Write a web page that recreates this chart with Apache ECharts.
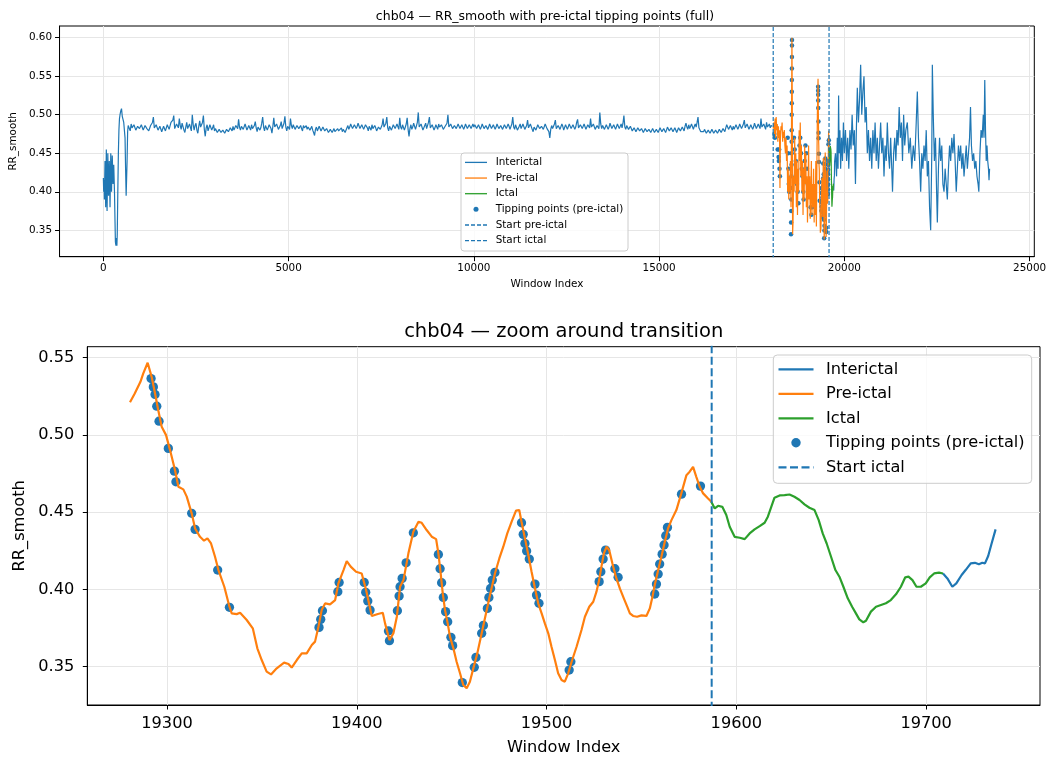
<!DOCTYPE html>
<html><head><meta charset="utf-8">
<script src="https://cdn.jsdelivr.net/npm/echarts@6/dist/echarts.min.js"></script>
<style>html,body{margin:0;padding:0;background:#fff}#c{width:1054px;height:758px}</style>
</head><body><div id="c"></div><script>
// ---------------- DATA ----------------
const startPreictal = 18080;
const startIctal = 19587;

// interictal, beginning of recording [window, RR_smooth]
const interictalEarly = [[0,0.418],[9,0.40],[18,0.415],[27,0.39],[45,0.44],[63,0.38],[80,0.455],[100,0.375],[120,0.45],[140,0.395],[160,0.44],[180,0.38],[200,0.45],[220,0.40],[240,0.447],[260,0.41],[280,0.435],[300,0.40],[315,0.36],[325,0.335],[340,0.33],[355,0.34],[365,0.33],[375,0.345],[390,0.40],[405,0.45],[420,0.48],[435,0.495],[450,0.50],[470,0.505],[490,0.508],[510,0.498],[530,0.50],[550,0.49],[570,0.488],[585,0.47],[600,0.43],[615,0.395],[628,0.393],[640,0.44],[655,0.478],[670,0.486],[690,0.484]];

// interictal plateau: blocks [first window, values every 25 windows]
const flatStep = 25;
const flatBlocks = [
[700,[0.484,0.479,0.488,0.483,0.482,0.487,0.486,0.480,0.481,0.485,0.487,0.482]],
[1000,[0.483,0.487,0.486,0.480,0.481,0.486,0.488,0.482,0.484,0.479,0.480,0.486,0.485,0.490,0.497,0.483,0.482,0.487,0.486,0.480,0.479,0.485,0.483,0.478,0.478,0.485,0.484,0.479,0.480,0.487,0.486,0.481,0.482,0.490,0.489,0.493,0.499,0.482,0.484,0.488]],
[2000,[0.488,0.483,0.495,0.486,0.481,0.489,0.487,0.480,0.477,0.484,0.490,0.482,0.483,0.488,0.486,0.479,0.500,0.487,0.480,0.486,0.489,0.480,0.476,0.485,0.492,0.484,0.482,0.490,0.499,0.481,0.472,0.483,0.487,0.479,0.481,0.487,0.485,0.480,0.483,0.487]],
[3000,[0.479,0.482,0.481,0.477,0.478,0.481,0.480,0.477,0.477,0.480,0.479,0.476,0.478,0.481,0.481,0.478,0.479,0.483,0.482,0.479,0.485,0.480,0.481,0.486,0.487,0.482,0.494,0.484,0.480,0.485,0.486,0.481,0.482,0.488,0.489,0.480,0.478,0.486,0.484,0.480]],
[4000,[0.487,0.482,0.481,0.486,0.491,0.483,0.478,0.484,0.486,0.480,0.483,0.489,0.497,0.484,0.479,0.486,0.485,0.480,0.481,0.487,0.488,0.482,0.476,0.485,0.496,0.484,0.482,0.488,0.487,0.481,0.480,0.486,0.491,0.482,0.483,0.489,0.498,0.484,0.479,0.485]],
[5000,[0.486,0.481,0.495,0.486,0.482,0.487,0.485,0.481,0.483,0.486,0.487,0.482,0.484,0.486,0.482,0.479,0.486,0.483,0.483,0.486,0.481,0.484,0.485,0.480,0.482,0.485,0.480,0.477,0.473,0.481,0.484,0.479,0.481,0.485,0.483,0.479,0.480,0.484,0.482,0.479]],
[6000,[0.479,0.482,0.480,0.477,0.478,0.481,0.480,0.477,0.479,0.482,0.478,0.476,0.480,0.482,0.479,0.477,0.481,0.483,0.478,0.481,0.480,0.477,0.479,0.483,0.486,0.481,0.484,0.488,0.489,0.482,0.483,0.487,0.487,0.482,0.485,0.489,0.490,0.482,0.484,0.487]],
[7000,[0.486,0.481,0.482,0.487,0.488,0.483,0.479,0.485,0.484,0.480,0.487,0.482,0.481,0.486,0.483,0.479,0.478,0.484,0.485,0.481,0.480,0.487,0.495,0.484,0.482,0.489,0.497,0.483,0.479,0.485,0.486,0.480,0.481,0.487,0.488,0.482,0.483,0.488,0.486,0.481]],
[8000,[0.496,0.484,0.481,0.487,0.486,0.480,0.482,0.488,0.496,0.481,0.472,0.482,0.487,0.481,0.484,0.489,0.490,0.481,0.480,0.490,0.503,0.484,0.483,0.488,0.487,0.480,0.480,0.486,0.489,0.482,0.484,0.490,0.497,0.483,0.482,0.487,0.486,0.480,0.483,0.487]],
[9000,[0.485,0.481,0.488,0.484,0.482,0.487,0.486,0.481,0.480,0.485,0.484,0.489,0.500,0.484,0.483,0.488,0.487,0.482,0.481,0.486,0.486,0.482,0.484,0.488,0.487,0.482,0.483,0.487,0.486,0.481,0.484,0.488,0.488,0.482,0.483,0.487,0.486,0.482,0.485,0.488]],
[10000,[0.484,0.487,0.486,0.482,0.483,0.487,0.485,0.481,0.484,0.488,0.487,0.482,0.483,0.486,0.486,0.481,0.484,0.488,0.485,0.482,0.483,0.487,0.486,0.481,0.484,0.488,0.487,0.482,0.482,0.486,0.485,0.481,0.483,0.487,0.486,0.482,0.484,0.488,0.485,0.481]],
[11000,[0.483,0.488,0.497,0.484,0.481,0.487,0.486,0.480,0.479,0.485,0.488,0.482,0.483,0.488,0.486,0.481,0.480,0.486,0.493,0.483,0.482,0.488,0.487,0.481,0.478,0.484,0.485,0.480,0.481,0.487,0.489,0.482,0.480,0.485,0.486,0.481,0.483,0.488,0.487,0.482]],
[12000,[0.482,0.478,0.470,0.481,0.486,0.482,0.481,0.488,0.493,0.482,0.480,0.486,0.487,0.481,0.483,0.488,0.485,0.480,0.481,0.487,0.486,0.481,0.483,0.488,0.488,0.482,0.482,0.487,0.487,0.481,0.484,0.490,0.494,0.483,0.482,0.487,0.489,0.482,0.484,0.488]],
[13000,[0.486,0.481,0.481,0.487,0.488,0.483,0.495,0.484,0.483,0.488,0.487,0.481,0.480,0.486,0.486,0.482,0.503,0.488,0.482,0.486,0.487,0.481,0.481,0.487,0.486,0.481,0.484,0.489,0.488,0.482,0.482,0.487,0.486,0.481,0.483,0.488,0.487,0.482,0.484,0.488]],
[14000,[0.483,0.489,0.499,0.484,0.481,0.486,0.486,0.481,0.480,0.485,0.484,0.479,0.479,0.483,0.482,0.478,0.480,0.483,0.483,0.479,0.478,0.482,0.481,0.477,0.479,0.482,0.482,0.478,0.478,0.481,0.480,0.477,0.479,0.482,0.481,0.477,0.478,0.481,0.480,0.477]],
[15000,[0.479,0.483,0.482,0.478,0.478,0.482,0.481,0.477,0.480,0.484,0.483,0.479,0.479,0.483,0.482,0.478,0.480,0.483,0.481,0.477,0.479,0.483,0.483,0.479,0.480,0.484,0.482,0.479,0.485,0.489,0.484,0.481,0.487,0.482,0.483,0.488,0.486,0.481,0.485,0.488]],
[16000,[0.484,0.490,0.497,0.483,0.482,0.478,0.480,0.476,0.478,0.481,0.479,0.476,0.477,0.480,0.479,0.476,0.478,0.481,0.480,0.476,0.477,0.480,0.479,0.476,0.478,0.481,0.480,0.477,0.479,0.482,0.481,0.478,0.483,0.487,0.485,0.481,0.482,0.486,0.484,0.480]],
[17000,[0.485,0.481,0.483,0.487,0.486,0.481,0.484,0.488,0.487,0.482,0.483,0.488,0.493,0.483,0.484,0.488,0.487,0.481,0.483,0.487,0.486,0.481,0.484,0.489,0.488,0.482,0.483,0.488,0.487,0.482,0.495,0.484,0.484,0.488,0.486,0.481,0.490,0.484,0.484,0.488]],
[18000,[0.483,0.486,0.485]]
];

// pre-ictal, before the zoom window (top panel only)
const preictalCoarse = [[18080,0.482],[18100,0.49],[18115,0.475],[18130,0.495],[18145,0.47],[18160,0.497],[18175,0.48],[18190,0.488],[18205,0.465],[18220,0.485],[18235,0.47],[18250,0.48],[18262,0.405],[18275,0.47],[18290,0.485],[18305,0.48],[18320,0.49],[18335,0.465],[18350,0.478],[18365,0.47],[18380,0.48],[18395,0.46],[18410,0.45],[18425,0.47],[18440,0.44],[18455,0.46],[18470,0.40],[18485,0.43],[18500,0.39],[18515,0.42],[18530,0.40],[18545,0.44],[18560,0.38],[18575,0.50],[18585,0.60],[18595,0.52],[18603,0.345],[18615,0.36],[18630,0.42],[18645,0.40],[18660,0.47],[18675,0.41],[18690,0.45],[18705,0.38],[18720,0.44],[18735,0.37],[18750,0.43],[18765,0.40],[18780,0.48],[18795,0.44],[18810,0.49],[18825,0.42],[18840,0.46],[18855,0.40],[18870,0.44],[18885,0.37],[18900,0.43],[18915,0.39],[18930,0.46],[18945,0.41],[18960,0.45],[18975,0.38],[18990,0.42],[19005,0.36],[19020,0.40],[19035,0.46],[19050,0.39],[19065,0.42],[19080,0.365],[19095,0.40],[19110,0.44],[19125,0.37],[19140,0.41],[19155,0.38],[19170,0.43],[19185,0.36],[19200,0.41],[19215,0.37],[19230,0.44],[19245,0.355],[19260,0.44],[19272,0.50]];

// pre-ictal inside the zoom window
const preictalFine = [[19280.5,0.521],[19283,0.5267],[19286,0.5343],[19287.5,0.5397],[19289.8,0.5466],[19291.9,0.5375],[19293.7,0.5267],[19295.4,0.5159],[19297.2,0.5052],[19299.5,0.4998],[19301.6,0.4901],[19304.2,0.4772],[19306,0.4664],[19308.6,0.4647],[19310.4,0.46],[19313,0.4492],[19314.8,0.4394],[19317.4,0.434],[19319.5,0.4315],[19321.3,0.433],[19323.2,0.4297],[19325.3,0.4211],[19327.1,0.4125],[19330.2,0.4017],[19332.9,0.3888],[19334.1,0.3845],[19336.7,0.384],[19338.5,0.3849],[19342,0.3802],[19345.2,0.3748],[19347.6,0.3619],[19349.9,0.3543],[19352.5,0.3468],[19354.8,0.345],[19357.8,0.3489],[19361.7,0.3526],[19364,0.3517],[19365.7,0.3494],[19368.4,0.3543],[19371,0.3586],[19373.6,0.3586],[19376.3,0.364],[19378,0.3662],[19379.8,0.3759],[19381.5,0.3866],[19383.3,0.3909],[19385.9,0.3903],[19388.6,0.3931],[19390.3,0.4039],[19393,0.4125],[19394.7,0.4183],[19396.8,0.4147],[19399.6,0.4114],[19402.6,0.4103],[19404.9,0.3996],[19407.9,0.3828],[19411.1,0.3841],[19413.7,0.3849],[19414.9,0.378],[19417.2,0.3672],[19419.3,0.3716],[19421.1,0.3823],[19422.8,0.4017],[19424.6,0.406],[19427.2,0.4233],[19429.8,0.4373],[19432.5,0.4438],[19434.2,0.4431],[19436.8,0.4384],[19439.5,0.4341],[19441.8,0.4325],[19443,0.4233],[19444.2,0.4103],[19445.3,0.3974],[19446.5,0.3866],[19447.9,0.378],[19449.1,0.3694],[19450.9,0.3619],[19452.6,0.3532],[19454.4,0.3457],[19456.1,0.3381],[19457.9,0.336],[19459.6,0.3403],[19461.4,0.3489],[19463.5,0.3586],[19465.8,0.3716],[19468.1,0.3845],[19470.2,0.3963],[19472.8,0.4103],[19475.1,0.42],[19477.2,0.4276],[19479.3,0.4362],[19481.6,0.4438],[19483.9,0.4509],[19485.6,0.4513],[19486.8,0.4438],[19488.6,0.433],[19490.4,0.4222],[19492.1,0.4114],[19493.9,0.4006],[19495.6,0.391],[19497.4,0.3845],[19499.1,0.378],[19500.9,0.3716],[19502.6,0.3629],[19504.4,0.3543],[19506.1,0.3457],[19507.9,0.3414],[19509.6,0.3403],[19511.4,0.3457],[19513.2,0.3532],[19515.8,0.3629],[19518.4,0.3737],[19520.2,0.3823],[19522.5,0.3888],[19524.6,0.392],[19526.3,0.3985],[19527.7,0.406],[19528.9,0.4147],[19530.2,0.4233],[19531.6,0.4276],[19533,0.4254],[19534.7,0.4168],[19536.5,0.4082],[19538.6,0.4006],[19540.7,0.3942],[19542.5,0.3888],[19543.9,0.3845],[19545.6,0.3828],[19547.7,0.3823],[19550,0.3832],[19552.6,0.3828],[19554.4,0.3877],[19555.8,0.3953],[19557,0.4028],[19558.8,0.4125],[19560.5,0.4211],[19562.3,0.4308],[19564,0.4394],[19565.8,0.4448],[19568.4,0.4513],[19571,0.4621],[19573.7,0.4739],[19575.4,0.4761],[19577.2,0.4793],[19578.9,0.4728],[19580.7,0.4664],[19582.5,0.4621],[19585.1,0.4588],[19586.8,0.4567]];

// ictal
const ictalFine = [[19586.8,0.4567],[19588.6,0.4524],[19590.4,0.4541],[19592.6,0.4534],[19594.7,0.4481],[19596.5,0.4405],[19599.1,0.434],[19601.8,0.4334],[19604.4,0.4325],[19607,0.4362],[19609.6,0.4388],[19612.3,0.4409],[19614.9,0.4431],[19616.6,0.447],[19618.4,0.4534],[19620.1,0.4593],[19622.8,0.4608],[19625.4,0.461],[19628,0.4614],[19630.6,0.4599],[19633.3,0.4578],[19635.9,0.455],[19638.5,0.4528],[19641.2,0.4513],[19643.4,0.4448],[19645.5,0.4362],[19647.6,0.4297],[19649.9,0.4211],[19652.2,0.4125],[19654.3,0.4082],[19656.4,0.4017],[19658.7,0.3942],[19661,0.3888],[19663,0.3845],[19664.8,0.3806],[19666.9,0.3787],[19668.3,0.3797],[19670.9,0.3856],[19673.6,0.3888],[19676.2,0.3899],[19678.8,0.391],[19681.4,0.3931],[19684.1,0.3968],[19686.7,0.4017],[19689,0.4078],[19690.7,0.4082],[19692.8,0.406],[19694.9,0.4017],[19697.2,0.4017],[19699.8,0.4039],[19701.9,0.4078],[19704.2,0.4103],[19706.8,0.4108],[19708.9,0.4103]];

// interictal after the seizure, inside the zoom window
const postFine = [[19708.9,0.4103],[19711.2,0.4071],[19713.8,0.4017],[19715.9,0.4039],[19718.7,0.4093],[19720.8,0.4125],[19723.5,0.4168],[19725.7,0.4172],[19727.8,0.4162],[19729.6,0.4172],[19731,0.4168],[19732.7,0.4216],[19734.5,0.4297],[19736.6,0.4388]];

// interictal after the zoom window (top panel only)
const postCoarse = [[19760,0.45],[19790,0.42],[19810,0.47],[19830,0.43],[19845,0.525],[19860,0.45],[19880,0.48],[19900,0.43],[19925,0.47],[19950,0.44],[19975,0.49],[20000,0.45],[20030,0.48],[20060,0.44],[20090,0.47],[20120,0.43],[20150,0.48],[20180,0.455],[20210,0.50],[20240,0.46],[20270,0.48],[20300,0.41],[20320,0.47],[20350,0.535],[20380,0.49],[20410,0.52],[20440,0.565],[20470,0.50],[20500,0.53],[20530,0.55],[20560,0.49],[20590,0.51],[20620,0.45],[20650,0.48],[20680,0.44],[20710,0.47],[20740,0.43],[20770,0.48],[20800,0.45],[20830,0.49],[20860,0.44],[20890,0.47],[20920,0.43],[20950,0.46],[20980,0.49],[21010,0.45],[21040,0.47],[21070,0.42],[21100,0.46],[21130,0.44],[21160,0.49],[21190,0.45],[21220,0.43],[21250,0.47],[21280,0.43],[21300,0.40],[21330,0.45],[21360,0.47],[21390,0.44],[21420,0.48],[21450,0.46],[21480,0.51],[21510,0.47],[21540,0.49],[21570,0.44],[21600,0.50],[21630,0.46],[21660,0.48],[21700,0.49],[21740,0.45],[21780,0.47],[21820,0.43],[21860,0.46],[21900,0.44],[21940,0.49],[21970,0.53],[22000,0.47],[22030,0.44],[22060,0.40],[22090,0.45],[22120,0.43],[22150,0.46],[22180,0.44],[22210,0.48],[22240,0.42],[22270,0.44],[22300,0.38],[22330,0.35],[22360,0.45],[22375,0.565],[22400,0.50],[22430,0.44],[22460,0.47],[22490,0.40],[22510,0.36],[22540,0.43],[22570,0.47],[22600,0.44],[22630,0.46],[22660,0.41],[22690,0.40],[22720,0.43],[22750,0.41],[22780,0.39],[22810,0.43],[22840,0.46],[22870,0.44],[22900,0.47],[22930,0.45],[22960,0.475],[22990,0.44],[23020,0.40],[23050,0.43],[23080,0.46],[23110,0.44],[23140,0.46],[23170,0.43],[23200,0.45],[23230,0.42],[23260,0.44],[23290,0.46],[23320,0.43],[23350,0.45],[23380,0.47],[23405,0.51],[23430,0.46],[23460,0.44],[23490,0.45],[23520,0.43],[23550,0.44],[23580,0.42],[23610,0.41],[23630,0.40],[23660,0.45],[23690,0.48],[23720,0.47],[23750,0.50],[23770,0.47],[23790,0.545],[23810,0.48],[23830,0.44],[23850,0.46],[23870,0.44],[23890,0.43],[23905,0.415],[23920,0.43]];

// tipping points before the zoom window (top panel only)
const tipCoarse = [[18110,0.475],[18125,0.47],[18200,0.455],[18225,0.445],[18232,0.44],[18240,0.455],[18250,0.43],[18260,0.42],[18470,0.47],[18480,0.45],[18490,0.43],[18500,0.41],[18510,0.40],[18560,0.345],[18563,0.36],[18566,0.375],[18569,0.39],[18571,0.405],[18573,0.42],[18575,0.435],[18577,0.45],[18578,0.465],[18579,0.48],[18580,0.50],[18581,0.515],[18582,0.53],[18583,0.545],[18584,0.56],[18585,0.575],[18586,0.59],[18587,0.597],[18640,0.47],[18660,0.455],[18690,0.44],[18700,0.42],[18720,0.41],[18740,0.40],[18760,0.385],[18790,0.46],[18810,0.47],[18830,0.45],[18850,0.43],[18870,0.42],[18890,0.40],[18900,0.39],[18930,0.44],[18950,0.46],[18970,0.45],[18990,0.43],[19010,0.41],[19050,0.41],[19070,0.395],[19090,0.38],[19110,0.37],[19130,0.38],[19150,0.39]];

// tipping points inside the zoom window
const tipFine = [[19291.6,0.5364],[19292.8,0.531],[19293.7,0.5261],[19294.6,0.5185],[19295.8,0.5088],[19300.7,0.4912],[19303.9,0.4765],[19304.7,0.4696],[19313,0.4492],[19314.8,0.4388],[19326.7,0.4125],[19332.9,0.3884],[19380.1,0.3754],[19381,0.3806],[19381.9,0.3862],[19390,0.3985],[19390.7,0.4045],[19403.9,0.4045],[19404.7,0.3981],[19405.8,0.3925],[19407,0.3866],[19416.7,0.3731],[19417.2,0.3668],[19421.4,0.3862],[19422.3,0.3957],[19422.8,0.4017],[19423.9,0.4071],[19426,0.4172],[19429.8,0.4366],[19443,0.4226],[19443.9,0.4134],[19444.7,0.4043],[19445.6,0.3948],[19446.8,0.3856],[19447.9,0.3791],[19449.6,0.369],[19450.5,0.3636],[19455.6,0.3397],[19461.9,0.3496],[19462.8,0.356],[19465.8,0.3716],[19466.7,0.3767],[19468.8,0.3877],[19469.6,0.3948],[19470.5,0.4006],[19471.4,0.406],[19472.8,0.411],[19486.8,0.4431],[19487.7,0.4356],[19488.6,0.4297],[19489.5,0.4248],[19490.9,0.4196],[19493.9,0.4034],[19494.7,0.3963],[19496,0.391],[19511.9,0.3478],[19512.8,0.3532],[19527.7,0.405],[19528.6,0.4114],[19529.8,0.4196],[19531.1,0.4254],[19536,0.4134],[19537.7,0.4078],[19557,0.397],[19557.9,0.4034],[19558.8,0.4099],[19559.6,0.4164],[19560.9,0.4228],[19561.9,0.4287],[19562.8,0.4347],[19563.7,0.4401],[19571.1,0.4616],[19581.1,0.4668]];

// tick labels
const topXTicks = [0, 5000, 10000, 15000, 20000, 25000];
const topYTicks = [0.35, 0.40, 0.45, 0.50, 0.55, 0.60];
const botXTicks = [19300, 19400, 19500, 19600, 19700];
const botYTicks = [0.35, 0.40, 0.45, 0.50, 0.55];

// ---------------- CHART ----------------
const FONT = 'DejaVu Sans';
const BLUE = '#1f77b4', ORANGE = '#ff7f0e', GREEN = '#2ca02c';
const GRIDC = '#e6e6e6';
const TOP = {xMin: -1183, xMax: 25127, yMin: 0.3157, yMax: 0.6152};
const BOT = {xMin: 19258, xMax: 19760, yMin: 0.3252, yMax: 0.557};

const flatPairs = [];
flatBlocks.forEach(b => b[1].forEach((v, i) => flatPairs.push([b[0] + i * flatStep, v])));
const interictalBefore = interictalEarly.concat(flatPairs);
const interictalAfter = postFine.concat(postCoarse);
const preictalAll = preictalCoarse.concat(preictalFine);
const tipAll = tipCoarse.concat(tipFine);

function xAxis(gi, r, ticks, fs, margin, gap) {
  return {
    type: 'value', gridIndex: gi, min: r.xMin, max: r.xMax,
    axisLine: {show: true, onZero: false, lineStyle: {color: '#000', width: 1}},
    axisTick: {show: true, customValues: ticks, length: 4.5, lineStyle: {color: '#000', width: 1}},
    axisLabel: {customValues: ticks, formatter: v => String(Math.round(v)), fontFamily: FONT, fontSize: fs, color: '#000', margin: margin},
    splitLine: {show: true, customValues: ticks, lineStyle: {color: GRIDC, width: 1}},
    name: 'Window Index', nameLocation: 'middle', nameGap: gap,
    nameTextStyle: {fontFamily: FONT, fontSize: fs, color: '#000'}
  };
}
function yAxis(gi, r, ticks, fs, margin, gap) {
  return {
    type: 'value', gridIndex: gi, min: r.yMin, max: r.yMax,
    axisLine: {show: true, onZero: false, lineStyle: {color: '#000', width: 1}},
    axisTick: {show: true, customValues: ticks, length: 4.5, lineStyle: {color: '#000', width: 1}},
    axisLabel: {customValues: ticks, formatter: v => v.toFixed(2), fontFamily: FONT, fontSize: fs, color: '#000', margin: margin},
    splitLine: {show: true, customValues: ticks, lineStyle: {color: GRIDC, width: 1}},
    name: 'RR_smooth', nameLocation: 'middle', nameGap: gap,
    nameTextStyle: {fontFamily: FONT, fontSize: fs, color: '#000'}
  };
}
function lineS(ai, data, color, w, z) {
  return {type: 'line', xAxisIndex: ai, yAxisIndex: ai, data: data, showSymbol: false, symbol: 'none',
    lineStyle: {color: color, width: w}, itemStyle: {color: color}, z: z || 3, animation: false, silent: true, clip: true};
}
function vline(ai, x, r, w, dash) {
  return {type: 'line', xAxisIndex: ai, yAxisIndex: ai, data: [[x, r.yMin - 1], [x, r.yMax + 1]], showSymbol: false, symbol: 'none',
    lineStyle: {color: BLUE, width: w, type: dash}, z: 4, animation: false, silent: true, clip: true};
}
function scat(ai, data, size) {
  return {type: 'scatter', xAxisIndex: ai, yAxisIndex: ai, data: data, symbolSize: size,
    itemStyle: {color: BLUE, opacity: 1}, z: 2, animation: false, silent: true, clip: true};
}

function legend(box, rows, l, fs, lw, dotR, dash) {
  const els = [{type: 'rect', shape: {x: box.x, y: box.y, width: box.w, height: box.h, r: box.r},
    style: {fill: 'rgba(255,255,255,0.8)', stroke: '#cccccc', lineWidth: 1}, z: 100}];
  rows.forEach((row, i) => {
    const cy = l.y0 + i * l.dy;
    if (row[1] === 'dot') {
      els.push({type: 'circle', shape: {cx: (l.x1 + l.x2) / 2, cy: cy, r: dotR}, style: {fill: row[2]}, z: 101});
    } else {
      els.push({type: 'line', shape: {x1: l.x1, y1: cy, x2: l.x2, y2: cy},
        style: {stroke: row[2], lineWidth: lw, lineDash: row[1] === 'dash' ? dash : null}, z: 101});
    }
    els.push({type: 'text', x: l.tx, y: cy, style: {text: row[0], fontFamily: FONT, fontSize: fs, fill: '#000', align: 'left', verticalAlign: 'middle'}, z: 101});
  });
  return els;
}

const topRows = [['Interictal', 'line', BLUE], ['Pre-ictal', 'line', ORANGE], ['Ictal', 'line', GREEN],
  ['Tipping points (pre-ictal)', 'dot', BLUE], ['Start pre-ictal', 'dash', BLUE], ['Start ictal', 'dash', BLUE]];
const botRows = [['Interictal', 'line', BLUE], ['Pre-ictal', 'line', ORANGE], ['Ictal', 'line', GREEN],
  ['Tipping points (pre-ictal)', 'dot', BLUE], ['Start ictal', 'dash', BLUE]];

const chart = echarts.init(document.getElementById('c'), null, {renderer: 'canvas'});
chart.setOption({
  animation: false,
  backgroundColor: '#fff',
  title: [
    {text: 'chb04 — RR_smooth with pre-ictal tipping points (full)', left: 545, top: 10, textAlign: 'center', padding: 0,
      textStyle: {fontFamily: FONT, fontSize: 12.5, fontWeight: 'normal', color: '#000'}},
    {text: 'chb04 — zoom around transition', left: 563.7, top: 322, textAlign: 'center', padding: 0,
      textStyle: {fontFamily: FONT, fontSize: 19.5, fontWeight: 'normal', color: '#000'}}
  ],
  grid: [
    {left: 56, top: 26, width: 978.3, height: 230.7, show: true, borderColor: '#000', borderWidth: 1, backgroundColor: 'transparent', containLabel: false},
    {left: 87.3, top: 346.7, width: 952.7, height: 358.3, show: true, borderColor: '#000', borderWidth: 1, backgroundColor: 'transparent', containLabel: false}
  ],
  xAxis: [xAxis(0, TOP, topXTicks, 10.4, 6.5, 23), xAxis(1, BOT, botXTicks, 16.2, 11, 35)],
  yAxis: [yAxis(0, TOP, topYTicks, 10.4, 7.5, 32), yAxis(1, BOT, botYTicks, 16.2, 13, 48)],
  series: [
    scat(0, tipAll, 4.5),
    lineS(0, interictalBefore, BLUE, 1.2),
    lineS(0, interictalAfter, BLUE, 1.2),
    lineS(0, preictalAll, ORANGE, 1.2),
    lineS(0, ictalFine, GREEN, 1.2),
    vline(0, startPreictal, TOP, 1.2, [4, 2]),
    vline(0, startIctal, TOP, 1.2, [4, 2]),
    scat(1, tipFine, 9.3),
    lineS(1, postFine, BLUE, 2.2),
    lineS(1, preictalFine, ORANGE, 2.2),
    lineS(1, ictalFine, GREEN, 2.2),
    vline(1, startIctal, BOT, 2, [8, 3.5])
  ],
  graphic: legend({x: 461, y: 153, w: 167, h: 98, r: 3}, topRows,
      {x1: 465, x2: 487, tx: 495.7, y0: 162.4, dy: 15.65}, 10.4, 1.3, 2.5, [4, 2])
    .concat(legend({x: 773.3, y: 355, w: 258.4, h: 128.3, r: 4}, botRows,
      {x1: 778.5, x2: 813.5, tx: 826, y0: 369.3, dy: 24.5}, 16.2, 2.2, 4.7, [8, 3.5]))
});
</script></body></html>
